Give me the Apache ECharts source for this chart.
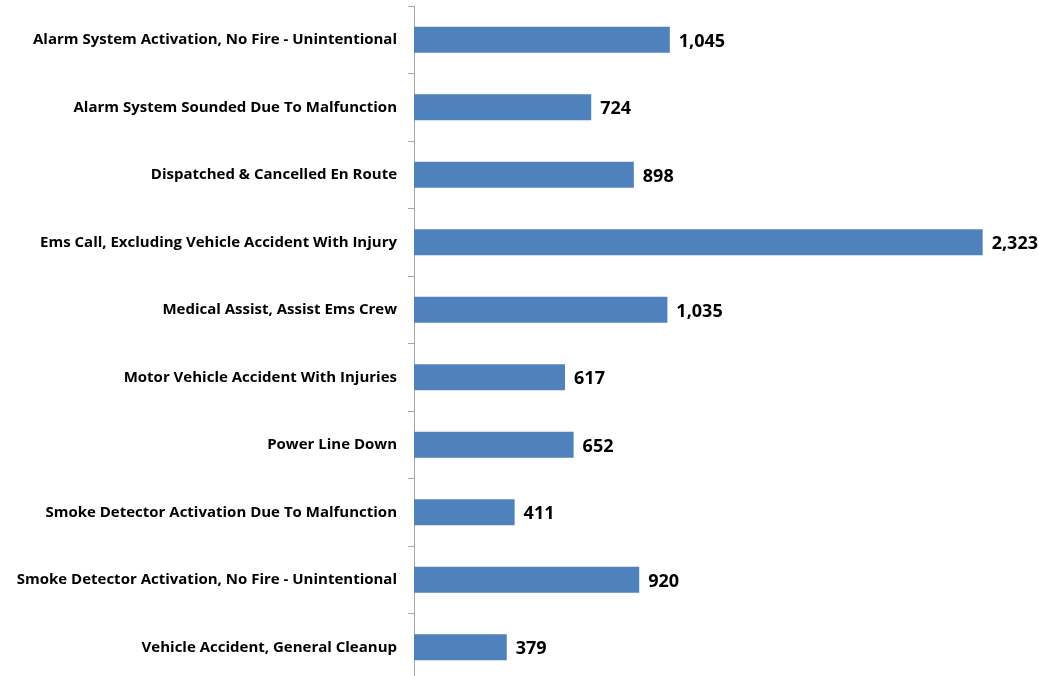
<!DOCTYPE html>
<html>
<head>
<meta charset="utf-8">
<script src="https://cdn.jsdelivr.net/npm/echarts@6/dist/echarts.min.js"></script>
<style>
  html, body { margin: 0; padding: 0; background: #fff; }
  #main { width: 1039px; height: 676px; }
</style>
</head>
<body>
<div id="main"></div>
<script>
// incident types and counts
var categories = [
    'Alarm System Activation, No Fire - Unintentional',
    'Alarm System Sounded Due To Malfunction',
    'Dispatched & Cancelled En Route',
    'Ems Call, Excluding Vehicle Accident With Injury',
    'Medical Assist, Assist Ems Crew',
    'Motor Vehicle Accident With Injuries',
    'Power Line Down',
    'Smoke Detector Activation Due To Malfunction',
    'Smoke Detector Activation, No Fire - Unintentional',
    'Vehicle Accident, General Cleanup'
];
var counts = [1045, 724, 898, 2323, 1035, 617, 652, 411, 920, 379];

var myChart = echarts.init(document.getElementById('main'));

myChart.setOption({
    animation: false,
    grid: {
        left: 414,
        right: 13,
        top: 6,
        height: 675,
        outerBoundsMode: 'none'
    },
    xAxis: {
        type: 'value',
        min: 0,
        max: 2500,
        show: false
    },
    yAxis: {
        type: 'category',
        data: categories,
        inverse: true,
        axisLine: { lineStyle: { color: '#a6a6a6', width: 1 } },
        axisTick: { show: true, length: 6, lineStyle: { color: '#a6a6a6' } },
        axisLabel: {
            margin: 17,
            color: '#000',
            fontFamily: 'Open Sans',
            fontWeight: 'bold',
            fontSize: 15,
            padding: [3, 0, 0, 0]
        }
    },
    series: [
        {
            type: 'bar',
            data: counts,
            barWidth: 26,
            itemStyle: { color: '#4f81bd' },
            label: {
                show: true,
                position: 'right',
                distance: 9,
                offset: [0, 2],
                color: '#000',
                fontFamily: 'Open Sans',
                fontWeight: 'bold',
                fontSize: 18,
                formatter: function (p) {
                    return p.value.toLocaleString('en-US');
                }
            }
        }
    ]
});
</script>
</body>
</html>
